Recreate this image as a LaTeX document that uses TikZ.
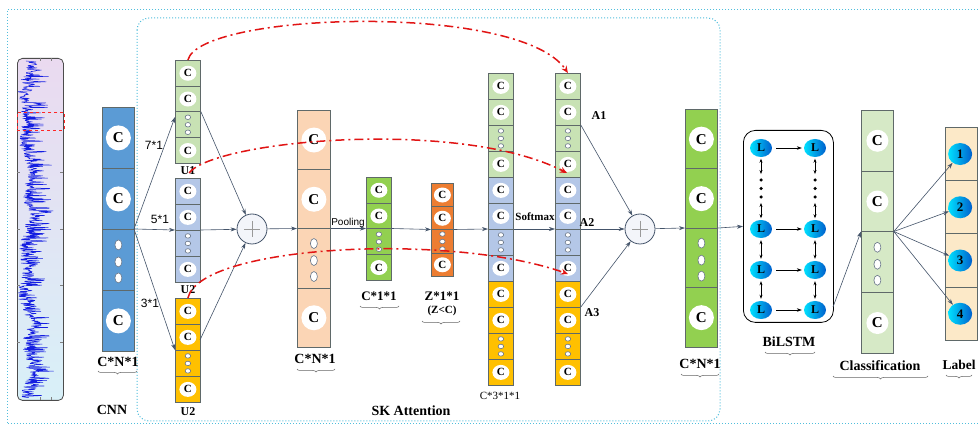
\documentclass[tikz,border=0pt]{standalone}
\usepackage{fontspec}
\setmainfont{Liberation Serif}
\newfontfamily\sansf{Liberation Sans}
\usetikzlibrary{arrows.meta,decorations.pathreplacing,shapes.geometric,calc}

\definecolor{connc}{RGB}{68,84,106}
\definecolor{cellline}{RGB}{95,105,105}
\definecolor{cnnblue}{RGB}{91,155,213}
\definecolor{lgreen}{RGB}{200,226,180}
\definecolor{lblue}{RGB}{180,199,231}
\definecolor{yel}{RGB}{255,192,0}
\definecolor{peach}{RGB}{251,213,181}
\definecolor{greenb}{RGB}{146,208,80}
\definecolor{orng}{RGB}{237,125,49}
\definecolor{clsgreen}{RGB}{214,233,198}
\definecolor{lblbg}{RGB}{252,233,200}
\definecolor{framecyan}{RGB}{80,190,220}
\definecolor{redarc}{RGB}{225,20,20}
\definecolor{sigtop}{RGB}{234,218,240}
\definecolor{sigbot}{RGB}{216,240,248}
\definecolor{ballA}{RGB}{0,225,255}
\definecolor{ballB}{RGB}{0,95,205}
\definecolor{wave}{RGB}{20,30,225}

\tikzset{
  cellbox/.style={rectangle, draw=cellline, line width=0.8pt, inner sep=0pt},
  csmall/.style={ellipse, fill=white, minimum width=17pt, minimum height=15pt, inner sep=0pt, font=\bfseries\fontsize{11}{11}\selectfont},
  cbig/.style={ellipse, fill=white, inner sep=0pt, font=\bfseries\fontsize{15}{15}\selectfont},
  dotsmall/.style={ellipse, draw=connc!80, fill=white, minimum width=5.5pt, minimum height=4.5pt, inner sep=0pt, line width=0.6pt},
  dotbig/.style={ellipse, draw=connc!80, fill=white, minimum width=7pt, minimum height=10pt, inner sep=0pt, line width=0.6pt},
  arr/.style={draw=connc, line width=0.6pt, -{Stealth[length=6pt,width=4pt]}},
  redline/.style={draw=redarc, line width=1.5pt, dash pattern=on 9pt off 4pt on 2pt off 4pt, -{Stealth[length=7pt,width=6pt]}},
  lab/.style={font=\bfseries\fontsize{14}{14}\selectfont, inner sep=1pt},
  labs/.style={font=\bfseries\fontsize{12}{12}\selectfont, inner sep=1pt},
  brc/.style={draw=gray!80!black, line width=0.5pt, decorate, decoration={brace, mirror, amplitude=3pt}},
  sumnode/.style={circle, draw=connc, fill={rgb,255:red,243;green,245;blue,250}, minimum size=30pt, inner sep=0pt, line width=0.8pt},
  lball/.style={ellipse, left color=ballA, right color=ballB, minimum width=22pt, minimum height=18pt, inner sep=0pt, font=\bfseries\fontsize{12}{12}\selectfont},
  numball/.style={ellipse, left color=ballA, right color=ballB, minimum width=24pt, minimum height=22pt, inner sep=0pt, font=\bfseries\fontsize{13}{13}\selectfont},
  bdot/.style={circle, fill=black, minimum size=3.5pt, inner sep=0pt},
  frame/.style={draw=framecyan, dotted, line width=1pt}
}

\newcommand\smallcol[6]{%
  \foreach \i in {1,...,4}{%
    \node[cellbox, fill=#6, minimum width=#4pt, minimum height=#5pt, anchor=north west] (#1-\i) at (#2,{#3+(\i-1)*#5}) {};}
  \foreach \i in {1,2,4}{\node[csmall] at (#1-\i) {C};}
  \foreach \d in {-7.5,0,7.5}{\node[dotsmall] at ($(#1-3)+(0,\d)$) {};}
}
\newcommand\bigcol[7]{%
  \foreach \i in {1,...,4}{%
    \node[cellbox, fill=#6, minimum width=#4pt, minimum height=#5pt, anchor=north west] (#1-\i) at (#2,{#3+(\i-1)*#5}) {};}
  \foreach \i in {1,2,4}{\node[cbig, minimum width=#7pt, minimum height=#7pt] at (#1-\i) {C};}
  \foreach \d in {-15,2,18}{\node[dotbig] at ($(#1-3)+(0,\d)$) {};}
}

\begin{document}
\begin{tikzpicture}[x=1pt,y=-1pt]
\useasboundingbox (0,0) rectangle (978,430);
\fill[white] (0,0) rectangle (978,430);

% frames
\draw[frame] (978,10) -- (7,10) -- (7,424) -- (978,424);
\draw[frame, rounded corners=12pt] (137,18) rectangle (720,421);

% signal
\node[rectangle, rounded corners=5pt, draw=black!70, line width=0.8pt, top color=sigtop, bottom color=sigbot, minimum width=46pt, minimum height=342pt, anchor=north west, inner sep=0pt] (sig) at (17,58) {};
\pgfmathsetseed{11}
\begin{scope}
\clip (18,60) rectangle (62,398);
\draw[wave, line width=0.5pt, line join=round] (26,61) \foreach \k in {62,62.45,...,398} { -- ({22+9*rnd+20*pow(rnd,3)+3*sin(\k*2.3)+2.5*sin(\k*7)},\k) };
\end{scope}
\foreach \t in {172,229,285,342} {\draw[gray, line width=0.4pt] (17,\t) -- (20,\t); \draw[gray, line width=0.4pt] (63,\t) -- (60,\t);}
\foreach \t in {40,51} {\draw[gray, line width=0.4pt] (\t,58) -- (\t,61); \draw[gray, line width=0.4pt] (\t,400) -- (\t,397);}
\node[draw=red!85, dashed, line width=0.9pt, minimum width=47pt, minimum height=18pt, anchor=north west, inner sep=0pt] (redbox) at (17,112) {};

% CNN
\bigcol{cnn}{102}{107}{32}{61}{cnnblue}{25}
\node[lab] (lbcnn) at (118,362) {C*N*1};
\draw[brc] (98,371) -- (137,371);
\node[lab] (cnntxt) at (112,410) {CNN};

% U branches
\smallcol{ua}{175}{60}{25}{25.75}{lgreen}
\smallcol{ub}{175}{178}{25}{26}{lblue}
\smallcol{uc}{175}{298}{25}{26}{yel}
\node[labs] (ual) at (188,171) {U1};
\node[labs] (ubl) at (188,290) {U2};
\node[labs] (ucl) at (188,412) {U2};

\coordinate (cnnout) at (134,229);
\draw[arr] (cnnout) -- (175,117);
\draw[arr] (cnnout) -- (ub-3.north west);
\draw[arr] (cnnout) -- (uc-3.north west);
\node[font=\sansf\fontsize{12}{12}\selectfont] (k7) at (154,145) {7*1};
\node[font=\sansf\fontsize{12}{12}\selectfont] (k5) at (160,219) {5*1};
\node[font=\sansf\fontsize{12}{12}\selectfont] (k3) at (150,303) {3*1};

% sum 1
\node[sumnode] (sum1) at (252,229) {};
\draw[gray!80, line width=0.6pt] ($(sum1)+(-8,0)$) -- ($(sum1)+(8,0)$) ($(sum1)+(0,-8)$) -- ($(sum1)+(0,8)$);
\draw[arr] (ua-3.north east) -- (sum1);
\draw[arr] (ub-3.north east) -- (sum1);
\draw[arr] (200,340) -- (sum1);

% peach
\bigcol{pch}{297}{110}{33}{59.25}{peach}{25}
\draw[arr] (sum1) -- (pch-3.north west);
\node[lab] (lbpch) at (315,359) {C*N*1};
\draw[brc] (297,369) -- (335,369);

% pooling
\smallcol{gp}{366}{177}{25}{25.75}{greenb}
\draw[arr] (pch-3.north east) -- (gp-3.north west);
\node[font=\sansf\fontsize{10}{10}\selectfont, inner sep=0pt] (pool) at (348,223) {Pooling};
\node[lab, font=\bfseries\fontsize{13}{13}\selectfont] (lbgp) at (379,296) {C*1*1};
\draw[brc] (360,306) -- (399,306);

% orange
\smallcol{orr}{431}{183}{22}{23.25}{orng}
\draw[arr] (gp-3.north east) -- (orr-3.north west);
\node[lab, font=\bfseries\fontsize{13}{13}\selectfont] (lbor) at (442,296) {Z*1*1};
\node[font=\bfseries\fontsize{11}{11}\selectfont, inner sep=0pt] (zc) at (442,311) {(Z<C)};
\draw[brc] (422,321) -- (460,321);

% stacks
\smallcol{sag}{488}{73}{25}{26}{lgreen}
\smallcol{sab}{488}{177}{25}{26}{lblue}
\smallcol{say}{488}{281}{25}{26}{yel}
\smallcol{sbg}{555}{73}{25}{26}{lgreen}
\smallcol{sbb}{555}{177}{25}{26}{lblue}
\smallcol{sby}{555}{281}{25}{26}{yel}
\draw[arr] (orr-3.north east) -- (sab-3.north west);
\draw[arr] (sab-3.north east) -- (sbb-3.north west);
\node[font=\bfseries\fontsize{11}{11}\selectfont, inner sep=0pt] (softm) at (535,217) {Softmax};
\node[font=\fontsize{11}{11}\selectfont, inner sep=0pt] (lbst) at (500,396) {C*3*1*1};
\node[labs] (a1) at (599,116) {A1};
\node[labs] (a2) at (587,223) {A2};
\node[labs] (a3) at (592,313) {A3};

% sum 2
\node[sumnode] (sum2) at (640,229) {};
\draw[gray!80, line width=0.6pt] ($(sum2)+(-8,0)$) -- ($(sum2)+(8,0)$) ($(sum2)+(0,-8)$) -- ($(sum2)+(0,8)$);
\draw[arr] (sbg-3.north east) -- (sum2);
\draw[arr] (sbb-3.north east) -- (sum2);
\draw[arr] (sby-2.north east) -- (sum2);

% big green
\bigcol{bg}{685}{109}{32}{59.5}{greenb}{25}
\draw[arr] (sum2) -- (bg-3.north west);
\node[lab] (lbbg) at (700,364) {C*N*1};
\draw[brc] (681,374) -- (719,374);

% BiLSTM
\node[draw=black, rounded corners=12pt, line width=0.8pt, minimum width=90pt, minimum height=192pt, anchor=north west, inner sep=0pt] (bil) at (743,130) {};
\draw[arr] (bg-3.north east) -- (bil.west);
\foreach \r/\yy in {1/148,2/229,3/270,4/310} {
  \node[lball] (l\r1) at (761,\yy) {L};
  \node[lball] (l\r2) at (815,\yy) {L};
  \draw[black, line width=0.6pt, -{Stealth[length=5pt,width=3.5pt]}, shorten <=4pt, shorten >=2pt] (l\r1) -- (l\r2);
}
\foreach \c/\xx in {1/761,2/815} {
  \node[bdot] (da\c) at (\xx,180) {};
  \node[bdot] (db\c) at (\xx,188.5) {};
  \node[bdot] (dc\c) at (\xx,197) {};
  \draw[black, line width=0.6pt, {Stealth[length=4pt,width=3pt]}-{Stealth[length=4pt,width=3pt]}, shorten <=1.5pt, shorten >=4pt] (l1\c) -- (da\c);
  \draw[black, line width=0.6pt, {Stealth[length=4pt,width=3pt]}-{Stealth[length=4pt,width=3pt]}, shorten <=4pt, shorten >=1.5pt] (dc\c) -- (l2\c);
  \draw[black, line width=0.6pt, {Stealth[length=4pt,width=3pt]}-{Stealth[length=4pt,width=3pt]}, shorten <=2pt, shorten >=2pt] (l2\c) -- (l3\c);
  \draw[black, line width=0.6pt, {Stealth[length=4pt,width=3pt]}-{Stealth[length=4pt,width=3pt]}, shorten <=2pt, shorten >=2pt] (l3\c) -- (l4\c);
}
\node[lab] (lbbil) at (789,342) {BiLSTM};
\draw[brc] (765,352) -- (815,352);

% classification
\bigcol{cls}{861}{110}{32}{60.75}{clsgreen}{22}
\coordinate (bilout) at (833,307);
\draw[arr] (bilout) -- (cls-3.north west);
\node[lab] (lbcls) at (880,366) {Classification};
\draw[brc] (833,376) -- (928,376);

% labels
\foreach \i in {1,...,4} {
  \node[cellbox, fill=lblbg, minimum width=31.5pt, minimum height=53.25pt, anchor=north west] (lb-\i) at (945,{127+(\i-1)*53.25}) {};
  \node[numball] (n\i) at ([xshift=-1pt]lb-\i.center) {\i};
  \draw[arr] (cls-3.north east) -- (n\i);
}
\node[lab, font=\bfseries\fontsize{13.5}{13.5}\selectfont] (lblab) at (959,365) {Label};
\draw[brc] (946,375) -- (972,375);

% SK attention
\node[lab] (sktxt) at (411,411) {SK Attention};

% red arcs
\coordinate (r2s) at (189,173);
\coordinate (r2e) at (567,173);
\coordinate (r3e) at (568,274);
\draw[redline] (ua-1.north) .. controls (200,12) and (520,2) .. (sbg-1.north);
\draw[redline] (r2s) .. controls (215,140) and (460,118) .. (r2e);
\draw[redline] (uc-1.north) .. controls (200,245) and (450,232) .. (r3e);
\end{tikzpicture}
\end{document}
